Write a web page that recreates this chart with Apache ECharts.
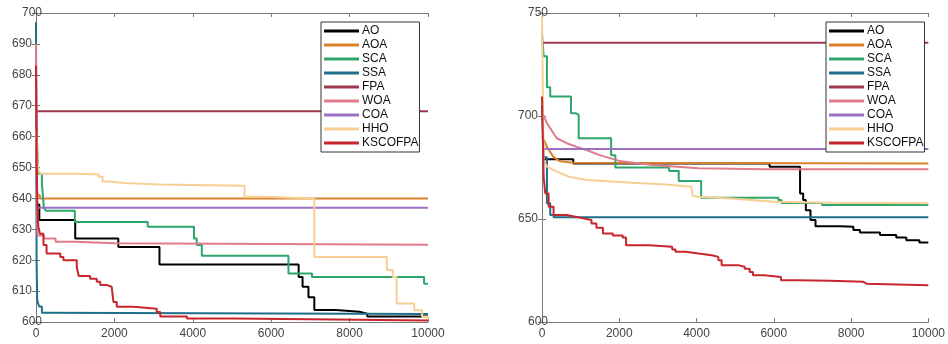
<!DOCTYPE html>
<html>
<head>
<meta charset="utf-8">
<script src="https://cdn.jsdelivr.net/npm/echarts@6/dist/echarts.min.js"></script>
<style>
  html, body { margin: 0; padding: 0; background: #fff; }
  #chart { width: 948px; height: 344px; }
</style>
</head>
<body>
<div id="chart"></div>
<script>
// series names, drawing order (last on top)
const names = ["AO", "AOA", "SCA", "SSA", "FPA", "WOA", "COA", "HHO", "KSCOFPA"];
const colors = ["#000000", "#d9822b", "#2ca66a", "#1f6f8b", "#9b3a4c", "#e07b8c", "#9b70c2", "#f7cf94", "#c8252d"];

// left panel: [iteration, best fitness]
const ao1 = [[0,638],[85,633],[1000,627],[2100,624.3],[3150,618.6],[6700,614.6],[6800,611.4],[6950,608],[7100,603.9],[7650,603.3],[8250,602.7],[8450,601.8],[10000,601.6]];
const aoa1 = [[0,660],[30,641],[100,640],[10000,640]];
const sca1 = [[0,672],[20,660],[60,648],[150,645],[200,637],[250,636],[990,632.4],[2850,630.8],[4030,627],[4100,624.9],[4230,621.4],[6440,615.7],[7040,614.6],[9900,612.4],[10000,612.4]];
const ssa1 = [[0,697],[15,620],[30,607],[80,605],[150,603],[250,602.6],[10000,602.6]];
const fpa1 = [[0,668.2],[10000,668.2]];
const woa1 = [[0,690],[20,640],[40,628],[200,627],[500,626],[1000,625.5],[2000,625],[10000,625]];
const coa1 = [[0,638],[50,637],[10000,637]];
const hho1 = [[0,662],[50,650],[100,648],[1050,647.7],[1600,647],[1700,645.5],[1850,645],[2250,644.5],[3150,644.1],[5320,640.5],[5800,640],[7100,621],[8950,616.8],[9100,614.6],[9200,606],[9650,603.8],[9850,601.6],[10000,601]];
const ksc1 = [[0,683],[20,650],[35,637],[60,630.8],[100,628.6],[190,624.9],[270,622.2],[620,621],[700,620],[1040,617.8],[1090,614.9],[1380,614],[1550,613],[1640,612],[1800,611.4],[1930,610.8],[1975,606.5],[2060,604.9],[2480,604.3],[3080,603.2],[3170,601.8],[3850,601.1],[5040,600.8],[7590,600.5],[10000,600.3]];

// right panel
const ao2 = [[0,679],[810,677],[5890,675.4],[6680,662.4],[6760,659.2],[6830,654.3],[6950,649.5],[7080,646.5],[7720,646.2],[8060,644.6],[8230,643.5],[8750,642.2],[9170,641],[9430,639.7],[9770,638.6],[10000,638.4]];
const aoa2 = [[0,690],[60,688],[128,685],[300,680],[470,678],[810,677.3],[10000,677]];
const sca2 = [[0,740],[43,729],[128,714],[213,709.5],[750,701.3],[880,700.5],[950,689.2],[1790,681],[1900,675],[3290,673.3],[3540,668.4],[4120,660.3],[6120,659.2],[6200,657.8],[7250,656.8],[10000,656.8]];
const ssa2 = [[0,705],[40,680],[128,657.6],[213,651.9],[300,650.8],[10000,650.6]];
const fpa2 = [[0,735.6],[10000,735.6]];
const woa2 = [[0,702],[128,696.5],[384,689.2],[640,686.8],[900,685],[1152,683.5],[1493,681],[2005,678.2],[2858,676.2],[4053,674.6],[5760,674.1],[10000,674.1]];
const coa2 = [[0,684],[10000,684]];
const hho2 = [[0,748],[43,678.6],[128,675.4],[384,673],[700,670.5],[1152,668.9],[2346,667.6],[3200,666.8],[3865,665.7],[3900,661.3],[4053,660.8],[4906,660],[6015,658.4],[7466,657.9],[10000,657.6]];
const ksc2 = [[0,709.5],[43,670.5],[85,662.4],[171,656],[300,651.9],[640,651],[896,650.3],[1067,649.5],[1280,647.8],[1408,645.7],[1578,643],[1834,642],[2090,641],[2176,637.3],[2773,636.5],[3370,635.2],[3456,634.1],[3712,633.2],[4053,632.4],[4394,631.6],[4565,630],[4650,627.6],[5077,626.8],[5247,625.8],[5375,624.3],[5461,622.7],[5759,621.9],[6186,620.3],[6613,620],[7466,619.5],[8319,618.6],[8404,617.8],[10000,617.5]];

const left = [ao1, aoa1, sca1, ssa1, fpa1, woa1, coa1, hho1, ksc1];
const right = [ao2, aoa2, sca2, ssa2, fpa2, woa2, coa2, hho2, ksc2];
const smoothRight = ["AOA", "WOA", "HHO"];

const chart = echarts.init(document.getElementById("chart"), null, { renderer: "canvas" });

const labelStyle = { color: "#444", fontSize: 12, fontFamily: "Liberation Sans, Arial, sans-serif" };
const lineStyle = { lineStyle: { color: "#7a7a7a", width: 1 } };
const tick = { inside: true, length: 4, lineStyle: { color: "#7a7a7a" } };

function xAxes(gridIndex) {
  return [
    {
      gridIndex, type: "value", min: 0, max: 10000, interval: 2000,
      axisLine: lineStyle, axisTick: tick,
      axisLabel: Object.assign({
        margin: 6, showMinLabel: true, showMaxLabel: true,
        alignMinLabel: "center", alignMaxLabel: "center",
        formatter: v => String(v)
      }, labelStyle),
      splitLine: { show: false }
    },
    {
      gridIndex, type: "value", position: "top", min: 0, max: 10000, interval: 2000,
      axisLine: lineStyle, axisTick: tick,
      axisLabel: { show: false }, splitLine: { show: false }
    }
  ];
}

function yAxes(gridIndex, min, max, interval) {
  return [
    {
      gridIndex, type: "value", min, max, interval,
      axisLine: lineStyle, axisTick: tick,
      axisLabel: Object.assign({
        margin: 4, verticalAlign: "middle",
        alignMinLabel: "center", alignMaxLabel: "center",
        formatter: v => String(v)
      }, labelStyle),
      splitLine: { show: false }
    },
    {
      gridIndex, type: "value", position: "right", min, max, interval,
      axisLine: lineStyle, axisTick: tick,
      axisLabel: { show: false }, splitLine: { show: false }
    }
  ];
}

function makeSeries(sets, xIdx, yIdx, smoothNames) {
  return sets.map((data, i) => ({
    name: names[i],
    type: "line",
    xAxisIndex: xIdx,
    yAxisIndex: yIdx,
    data,
    step: smoothNames.indexOf(names[i]) >= 0 ? false : "end",
    showSymbol: false,
    symbol: "none",
    color: colors[i],
    lineStyle: { color: colors[i], width: 2 },
    clip: true
  }));
}

function legend(leftPx) {
  return {
    data: names,
    orient: "vertical",
    left: leftPx,
    top: 22,
    padding: [3, 1, 3, 3],
    itemGap: 2,
    itemWidth: 35,
    itemHeight: 3,
    icon: "rect",
    selectedMode: false,
    backgroundColor: "#fff",
    borderColor: "#333",
    borderWidth: 1,
    borderRadius: 0,
    textStyle: { color: "#111", fontSize: 12, lineHeight: 12, padding: [0, 0, 0, -2], fontFamily: "Liberation Sans, Arial, sans-serif" }
  };
}

chart.setOption({
  animation: false,
  backgroundColor: "#fff",
  grid: [
    { left: 36, top: 13, width: 392, height: 309 },
    { left: 542, top: 13, width: 390, height: 309 }
  ],
  xAxis: xAxes(0).concat(xAxes(1)),
  yAxis: yAxes(0, 600, 700, 10).concat(yAxes(1, 600, 750, 50)),
  legend: [legend(321), legend(826)],
  series: makeSeries(left, 0, 0, []).concat(makeSeries(right, 2, 2, smoothRight))
});
</script>
</body>
</html>
